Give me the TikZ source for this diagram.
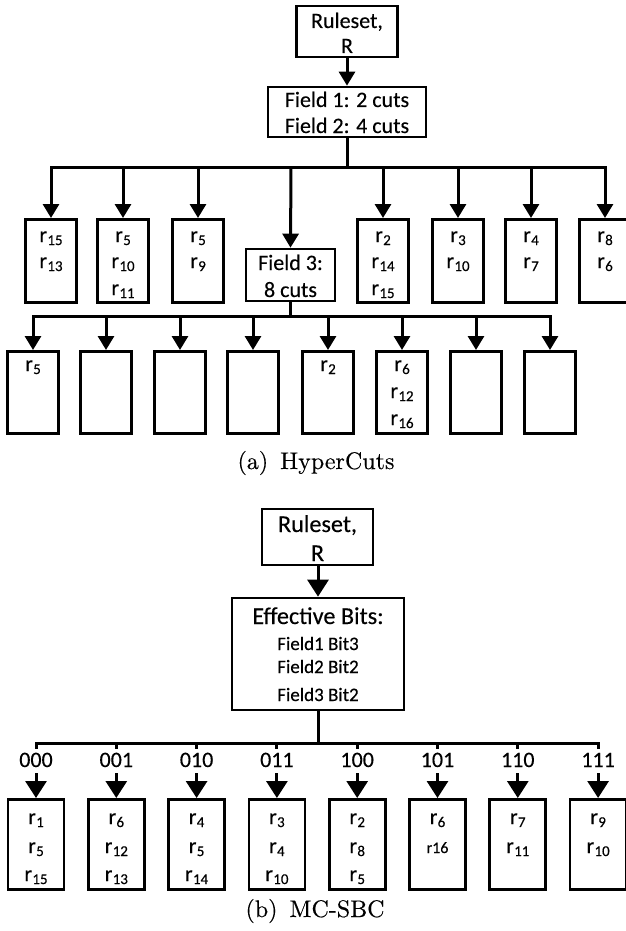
\documentclass[tikz,border=0pt]{standalone}
\usepackage{fontspec}
\newfontfamily\calfont{Carlito}[FakeBold=0.3]
\newfontfamily\capfont{lmroman10-regular.otf}[FakeBold=0.3]
\usetikzlibrary{arrows.meta}

% rule name with a lowered index, e.g. r_15
\newcommand\rs[1]{r\kern0.3pt\raisebox{-3pt}{\fontsize{15}{15}\selectfont #1}}

\tikzset{
  frame/.style={draw, line width=2.7pt, inner sep=0pt},
  leaf/.style={frame, minimum width=51pt, minimum height=83pt, anchor=north},
  leafb/.style={frame, minimum width=56pt, minimum height=90pt, anchor=north},
  lbl/.style={font=\calfont\fontsize{22}{22}\selectfont, inner sep=0pt, anchor=base},
  lblb/.style={font=\calfont\fontsize{24.2}{24.2}\selectfont, inner sep=0pt, anchor=base},
  lbls/.style={font=\calfont\fontsize{19}{19}\selectfont, inner sep=0pt, anchor=base},
  ln/.style={line width=3pt},
  bar/.style={line width=3pt, line cap=rect},
  arr/.style={line width=3pt, -{Triangle[length=14pt,width=16pt]}},
  arrb/.style={line width=3pt, -{Triangle[length=17pt,width=21pt]}},
  captext/.style={font=\capfont\fontsize{24}{24}\selectfont, inner sep=0pt, anchor=base},
}

\begin{document}
\begin{tikzpicture}[x=1pt,y=-1pt]
\useasboundingbox (0,0) rectangle (626,931);

% ---------------- (a) HyperCuts ----------------
\node[frame, minimum width=101pt, minimum height=51pt] (rsA) at (347,31.5) {};
\node[lbl] (rsA1) at (347,28) {Ruleset,};
\node[lbl] (rsA2) at (347,53) {R};

\node[frame, minimum width=158pt, minimum height=50pt] (f12) at (347,112) {};
\node[lbl] (f12a) at (347,107) {Field 1: 2 cuts};
\node[lbl] (f12b) at (347,133) {Field 2: 4 cuts};

\draw[arr] (rsA) -- (f12);

% first level of cuts
\foreach \n/\x in {1/51,2/123,3/198,4/291,5/383,6/458,7/531,8/605}
  \coordinate (ja\n) at (\x,167);
\draw[ln] (f12.south) -- (f12.south |- ja1);
\draw[bar] (ja1) -- (ja8);

\foreach \n/\x in {1/51,2/123,3/198,5/383,6/458,7/531,8/605}
  \node[leaf] (a\n) at (\x,218) {};
\node[frame, minimum width=89pt, minimum height=52pt] (f3) at (290.5,275) {};
\node[lbl] (f3a) at (290.5,270) {Field 3:};
\node[lbl] (f3b) at (290.5,297) {8 cuts};

\foreach \n in {1,2,3,5,6,7,8}
  \draw[arr] (ja\n) -- (a\n.north);
\draw[arr] (ja4) -- (f3.north);

% rules held by the first-level leaves
\node[lbl] (a1r1) at (51,242) {\rs{15}};
\node[lbl] (a1r2) at (51,268) {\rs{13}};
\node[lbl] (a2r1) at (123,242) {\rs{5}};
\node[lbl] (a2r2) at (123,268) {\rs{10}};
\node[lbl] (a2r3) at (123,295) {\rs{11}};
\node[lbl] (a3r1) at (198,242) {\rs{5}};
\node[lbl] (a3r2) at (198,268) {\rs{9}};
\node[lbl] (a5r1) at (383,242) {\rs{2}};
\node[lbl] (a5r2) at (383,268) {\rs{14}};
\node[lbl] (a5r3) at (383,295) {\rs{15}};
\node[lbl] (a6r1) at (458,242) {\rs{3}};
\node[lbl] (a6r2) at (458,268) {\rs{10}};
\node[lbl] (a7r1) at (531,242) {\rs{4}};
\node[lbl] (a7r2) at (531,268) {\rs{7}};
\node[lbl] (a8r1) at (605,242) {\rs{8}};
\node[lbl] (a8r2) at (605,268) {\rs{6}};

% second level of cuts (Field 3)
\foreach \n/\x in {1/33,2/106,3/180,4/253,5/328,6/402,7/476,8/550}
  \coordinate (jb\n) at (\x,316);
\draw[ln] (f3.south) -- (f3.south |- jb1);
\draw[bar] (jb1) -- (jb8);
\foreach \n/\x in {1/33,2/106,3/180,4/253,5/328,6/402,7/476,8/550}{
  \node[leaf, minimum height=82pt] (b\n) at (\x,350) {};
  \draw[arr] (jb\n) -- (b\n.north);
}
\node[lbl] (b1r1) at (33,371) {\rs{5}};
\node[lbl] (b5r1) at (328,371) {\rs{2}};
\node[lbl] (b6r1) at (402,371) {\rs{6}};
\node[lbl] (b6r2) at (402,398) {\rs{12}};
\node[lbl] (b6r3) at (402,425) {\rs{16}};

\node[captext] (capA) at (316,469) {(a)\enspace HyperCuts};

% ---------------- (b) MC-SBC ----------------
\node[frame, minimum width=111pt, minimum height=56pt] (rsB) at (317.5,537) {};
\node[lblb] (rsB1) at (317.5,532) {Ruleset,};
\node[lblb] (rsB2) at (317.5,561) {R};

\node[frame, minimum width=172pt, minimum height=112pt] (eb) at (318,654) {};
\node[lblb] (eb0) at (318,624) {Effective Bits:};
\node[lbls] (eb1) at (318,650) {Field1 Bit3};
\node[lbls] (eb2) at (318,673) {Field2 Bit2};
\node[lbls] (eb3) at (318,701) {Field3 Bit2};

\draw[arrb] (rsB.south -| eb.north) -- (eb.north);

\foreach \n/\x in {1/36,2/116.3,3/196.6,4/276.9,5/357.2,6/437.5,7/517.8,8/598.1}{
  \coordinate (jc\n) at (\x,743);
  \coordinate (tc\n) at (\x,749);
  \coordinate (sc\n) at (\x,773);
}
\draw[ln] (eb.south) -- (eb.south |- jc1);
\draw[bar] (jc1) -- (jc8);

\foreach \n/\x/\code in {1/36/000,2/116.3/001,3/196.6/010,4/276.9/011,5/357.2/100,6/437.5/101,7/517.8/110,8/598.1/111}{
  \draw[ln] (jc\n) -- (tc\n);
  \node[lbl] (code\n) at (\x,767) {\code};
  \node[leafb] (c\n) at (\x,798) {};
  \draw[arrb] (sc\n) -- (c\n.north);
}

\node[lbl] (c1r1) at (36,824) {\rs{1}};
\node[lbl] (c1r2) at (36,853) {\rs{5}};
\node[lbl] (c1r3) at (36,881) {\rs{15}};
\node[lbl] (c2r1) at (116.3,824) {\rs{6}};
\node[lbl] (c2r2) at (116.3,853) {\rs{12}};
\node[lbl] (c2r3) at (116.3,881) {\rs{13}};
\node[lbl] (c3r1) at (196.6,824) {\rs{4}};
\node[lbl] (c3r2) at (196.6,853) {\rs{5}};
\node[lbl] (c3r3) at (196.6,881) {\rs{14}};
\node[lbl] (c4r1) at (276.9,824) {\rs{3}};
\node[lbl] (c4r2) at (276.9,853) {\rs{4}};
\node[lbl] (c4r3) at (276.9,881) {\rs{10}};
\node[lbl] (c5r1) at (357.2,824) {\rs{2}};
\node[lbl] (c5r2) at (357.2,853) {\rs{8}};
\node[lbl] (c5r3) at (357.2,881) {\rs{5}};
\node[lbl] (c6r1) at (437.5,824) {\rs{6}};
\node[lbl, font=\calfont\fontsize{16}{16}\selectfont] (c6r2) at (437.5,853) {r16};
\node[lbl] (c7r1) at (517.8,824) {\rs{7}};
\node[lbl] (c7r2) at (517.8,853) {\rs{11}};
\node[lbl] (c8r1) at (598.1,824) {\rs{9}};
\node[lbl] (c8r2) at (598.1,853) {\rs{10}};

\node[captext] (capB) at (315,917) {(b)\enspace MC-SBC};
\end{tikzpicture}
\end{document}
